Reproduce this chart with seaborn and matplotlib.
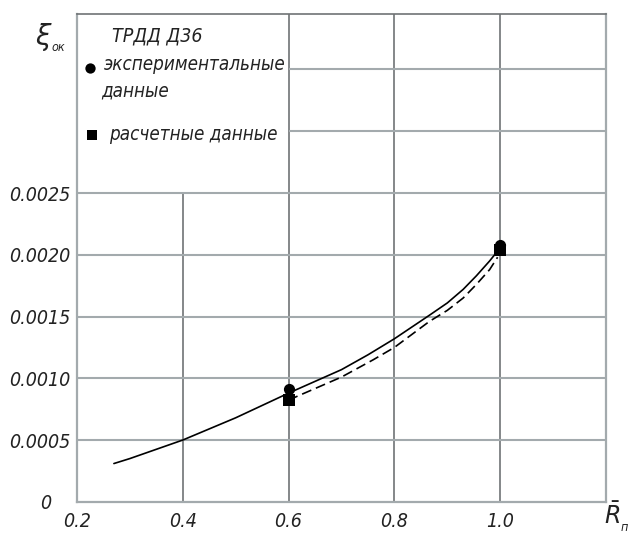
#!/usr/bin/env python3
"""
Relative loss coefficient xi_ok vs relative radius R_n for the D36 turbofan.
"""

import pandas as pd
import matplotlib
matplotlib.use("Agg")
import matplotlib.pyplot as plt
import seaborn as sns

# Solid curve (experiment fit)
solid_x = [0.27, 0.30, 0.40, 0.50, 0.60, 0.70, 0.75, 0.80, 0.866, 0.90, 0.93,
           0.955, 0.98, 0.995]
solid_y = [0.00031, 0.00035, 0.00050, 0.00068, 0.00088, 0.00107, 0.00119, 0.00132,
           0.00151, 0.00161, 0.00172, 0.00183, 0.00195, 0.00203]

# Dashed curve (calculation)
dashed_x = [0.60, 0.614, 0.70, 0.76, 0.80, 0.866, 0.90, 0.93, 0.955, 0.98, 0.995]
dashed_y = [0.00082, 0.00085, 0.00101, 0.00115, 0.00125, 0.00146, 0.00155,
            0.00165, 0.00176, 0.00188, 0.00198]

# Markers
exp_x = [0.60, 1.00]
exp_y = [0.00091, 0.00208]
calc_x = [0.60, 1.00]
calc_y = [0.000825, 0.00204]

x_ticks = [0.2, 0.4, 0.6, 0.8, 1.0]
x_tick_labels = ["0.2", "0.4", "0.6", "0.8", "1.0"]
y_ticks = [0, 0.0005, 0.0010, 0.0015, 0.0020, 0.0025]
y_tick_labels = ["0", "0.0005", "0.0010", "0.0015", "0.0020", "0.0025"]

sns.set_style("white")
plt.rcParams['font.family'] = ['DejaVu Sans']

FONT = dict(family=['DejaVu Sans'], style='italic', stretch='condensed',
            color='#222222')
GRID_V = '#6f7375'
GRID_H = '#a3aaad'


def main():
    fig = plt.figure(figsize=(6.3, 5.35), dpi=100)
    ax = fig.add_axes([0.122, 0.062, 0.840, 0.912])
    ax.set_xlim(0.2, 1.2)
    ax.set_ylim(0, 0.00395)

    # grid drawn by hand, the legend box sits in the upper-left cell block
    ax.vlines(0.4, 0, 0.0025, color=GRID_V, lw=1.2, zorder=0)
    ax.vlines([0.6, 0.8, 1.0], 0, 0.00395, color=GRID_V, lw=1.2, zorder=0)
    ax.hlines([0.0005, 0.0010, 0.0015, 0.0020, 0.0025], 0.2, 1.2,
              color=GRID_H, lw=1.5, zorder=0)
    ax.hlines([0.0030, 0.0035], 0.6, 1.2, color=GRID_H, lw=1.5, zorder=0)

    solid = pd.DataFrame({'x': solid_x, 'y': solid_y})
    dashed = pd.DataFrame({'x': dashed_x, 'y': dashed_y})
    sns.lineplot(data=solid, x='x', y='y', ax=ax, color='black', lw=1.2,
                 estimator=None, zorder=3)
    sns.lineplot(data=dashed, x='x', y='y', ax=ax, color='black', lw=1.2,
                 estimator=None, zorder=3)
    ax.lines[-1].set_linestyle((0, (6, 3)))

    ax.scatter(calc_x, calc_y, marker='s', s=65, color='black', zorder=4,
               linewidths=0)
    ax.scatter(exp_x, exp_y, marker='o', s=65, color='black', zorder=4,
               linewidths=0)

    for side in ['left', 'bottom', 'right', 'top']:
        ax.spines[side].set_color(GRID_H)
        ax.spines[side].set_linewidth(1.6)
    ax.spines['top'].set_color(GRID_V)
    ax.spines['top'].set_linewidth(1.2)

    ax.set_xticks(x_ticks)
    ax.set_xticklabels(x_tick_labels, fontsize=14, **FONT)
    ax.set_yticks(y_ticks)
    ax.set_yticklabels(y_tick_labels, fontsize=14, **FONT)
    ax.tick_params(axis='y', length=0, pad=5)
    ax.tick_params(axis='x', length=0, pad=7)
    ax.set_xlabel('')
    ax.set_ylabel('')
    # the zero label sits further left in the original drawing
    ax.get_yticklabels()[0].set_x(-0.035)

    # axis symbols
    fig.text(0.055, 0.93, r'$\xi$', fontsize=20, color='#222222',
             ha='left', va='center')
    fig.text(0.082, 0.912, 'ок', fontsize=9, ha='left', va='center', **FONT)
    fig.text(0.958, 0.036, r'$\bar{R}$', fontsize=17, color='#222222',
             ha='left', va='center')
    fig.text(0.985, 0.014, 'п', fontsize=9, ha='left', va='center', **FONT)

    # legend text
    ax.text(0.267, 0.00377, 'ТРДД Д36', fontsize=14, va='center', **FONT)
    ax.scatter([0.225], [0.00351], marker='o', s=55, color='black',
               linewidths=0, zorder=4)
    ax.text(0.251, 0.00354, 'экспериментальные', fontsize=13.5, va='center', **FONT)
    ax.text(0.246, 0.003325, 'данные', fontsize=13.5, va='center', **FONT)
    ax.scatter([0.229], [0.00297], marker='s', s=50, color='black',
               linewidths=0, zorder=4)
    ax.text(0.261, 0.00297, 'расчетные данные', fontsize=13.5, va='center', **FONT)

    fig.savefig('out.png', dpi=100)
    plt.close(fig)


if __name__ == "__main__":
    main()
